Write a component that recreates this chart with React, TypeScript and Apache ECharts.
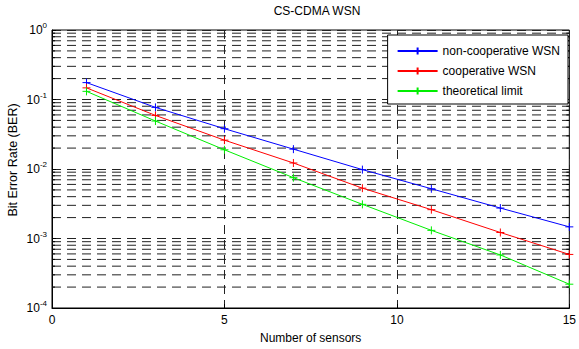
import React, { useEffect, useRef } from "react";
import * as echarts from "echarts";

const xValues = [1, 3, 5, 7, 9, 11, 13, 15];
const nonCoop = [0.175, 0.077, 0.038, 0.0193, 0.0098, 0.0052, 0.00274, 0.00147];
const coop = [0.147, 0.059, 0.026, 0.0122, 0.0053, 0.0026, 0.00122, 0.00059];
const theory = [0.131, 0.049, 0.0189, 0.0075, 0.0031, 0.00131, 0.00058, 0.00022];
const seriesNames = ["non-cooperative WSN", "cooperative WSN", "theoretical limit"];
const seriesColors = ["#0000ff", "#ff0000", "#00ee00"];
const minorMultipliers = [2, 3, 4, 5, 6, 7, 8, 9];
const decades = [-4, -3, -2, -1];

const FONT = "Liberation Sans, Arial, Helvetica, sans-serif";
const PLUS = "path://M0,5L10,5M5,0L5,10";
const DASH = [9, 6];
const GRID_COLOR = "#222";

export default function App() {
  const ref = useRef<HTMLDivElement>(null);
  useEffect(() => {
    if (!ref.current) return;
    document.body.style.margin = "0";
    document.body.style.overflow = "hidden";
    const chart = echarts.init(ref.current, undefined, { renderer: "svg" });
    const minorValues: number[] = [];
    decades.forEach((d) => minorMultipliers.forEach((m) => minorValues.push(m * Math.pow(10, d))));
    const datasets = [nonCoop, coop, theory];
    const option: any = {
      animation: false,
      backgroundColor: "#ffffff",
      textStyle: { fontFamily: FONT },
      title: {
        text: "CS-CDMA WSN",
        left: 312,
        textAlign: "center",
        top: 0,
        textStyle: { fontFamily: FONT, fontSize: 12, fontWeight: "normal", color: "#000" },
      },
      graphic: [
        {
          type: "text",
          x: 13,
          y: 160,
          rotation: Math.PI / 2,
          style: {
            text: "Bit Error Rate (BER)",
            fontFamily: FONT,
            fontSize: 12.5,
            fill: "#000",
            align: "center",
            verticalAlign: "middle",
          },
        },
      ],
      legend: {
        data: seriesNames,
        orient: "vertical",
        right: 11,
        top: 35,
        itemWidth: 40,
        itemHeight: 9,
        itemGap: 6,
        padding: [9, 8, 6, 9],
        backgroundColor: "#ffffff",
        borderColor: "#000",
        borderWidth: 1,
        borderRadius: 0,
        textStyle: { fontFamily: FONT, fontSize: 12, color: "#000", lineHeight: 14 },
      },
      grid: {
        left: 52,
        right: 5,
        top: 30,
        bottom: 39,
        show: true,
        borderColor: "#000",
        borderWidth: 1,
        backgroundColor: "transparent",
      },
      xAxis: {
        type: "value",
        min: 0,
        max: 15,
        interval: 5,
        name: "Number of sensors",
        nameLocation: "middle",
        nameGap: 24,
        nameTextStyle: { fontFamily: FONT, fontSize: 12, color: "#000" },
        axisLine: { show: true, lineStyle: { color: "#000", width: 1 } },
        axisTick: { show: true, inside: true, length: 4, lineStyle: { color: "#000" } },
        axisLabel: { margin: 6, fontFamily: FONT, fontSize: 12, color: "#000" },
        splitLine: { show: true, lineStyle: { color: GRID_COLOR, type: DASH, width: 1 } },
      },
      yAxis: {
        type: "log",
        logBase: 10,
        min: 1e-4,
        max: 1,
        axisLine: { show: true, lineStyle: { color: "#000", width: 1 } },
        axisTick: { show: true, inside: true, length: 4, lineStyle: { color: "#000" } },
        axisLabel: {
          margin: 5,
          color: "#000",
          formatter: (v: number) => `{b|10}{s|${Math.round(Math.log10(v))}}`,
          rich: {
            b: { fontFamily: FONT, fontSize: 12, color: "#000" },
            s: { fontFamily: FONT, fontSize: 8, color: "#000", padding: [0, 0, 9, 0] },
          },
        },
        splitLine: { show: true, lineStyle: { color: GRID_COLOR, type: DASH, width: 1 } },
      },
      series: [
        {
          name: "minor-grid",
          type: "custom",
          z: 1,
          silent: true,
          data: minorValues.map((v) => [0, v]),
          renderItem: (params: any, api: any) => {
            const cs = params.coordSys;
            const y = api.coord([0, api.value(1)])[1];
            return {
              type: "group",
              children: [
                {
                  type: "line",
                  shape: { x1: cs.x, y1: y, x2: cs.x + cs.width, y2: y },
                  style: { stroke: GRID_COLOR, lineWidth: 1, lineDash: DASH },
                },
                {
                  type: "line",
                  shape: { x1: cs.x, y1: y, x2: cs.x + 3, y2: y },
                  style: { stroke: "#000", lineWidth: 1 },
                },
                {
                  type: "line",
                  shape: { x1: cs.x + cs.width - 3, y1: y, x2: cs.x + cs.width, y2: y },
                  style: { stroke: "#000", lineWidth: 1 },
                },
              ],
            };
          },
        },
        ...datasets.map((vals, i) => ({
          name: seriesNames[i],
          type: "line",
          z: 3,
          data: xValues.map((x, j) => [x, vals[j]]),
          symbol: PLUS,
          symbolSize: 8,
          showSymbol: true,
          lineStyle: { color: seriesColors[i], width: 1 },
          itemStyle: { color: seriesColors[i], borderColor: seriesColors[i], borderWidth: 1 },
          emphasis: { disabled: true },
        })),
      ],
    };
    chart.setOption(option);
    return () => chart.dispose();
  }, []);
  return <div ref={ref} style={{ position: "fixed", left: 0, top: 0, width: 579, height: 349 }} />;
}
